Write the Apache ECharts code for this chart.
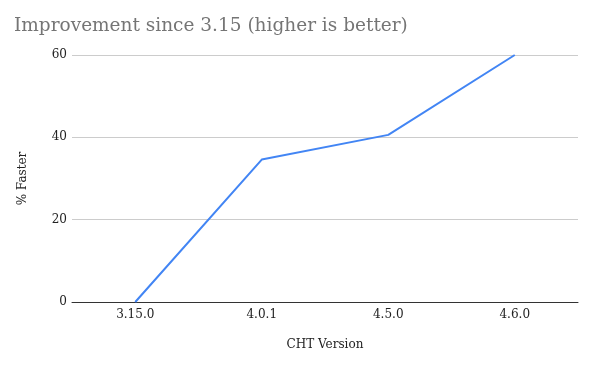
<!DOCTYPE html>
<html><head><meta charset="utf-8">
<script src="https://cdn.jsdelivr.net/npm/echarts@6/dist/echarts.min.js"></script>
<style>html,body{margin:0;padding:0;background:#fff}#c{width:596px;height:370px}</style>
</head><body><div id="c"></div>
<script>
const categories = ["3.15.0", "4.0.1", "4.5.0", "4.6.0"];
const fasterPct = [0, 34.6, 40.6, 60.0];
const yTicks = {min: 0, max: 60, interval: 20};
const titleText = "Improvement since 3.15 (higher is better)";
const xName = "CHT Version";
const yName = "% Faster";

const font = "'DejaVu Serif', 'Liberation Serif', serif";
const chart = echarts.init(document.getElementById('c'));
chart.setOption({
  animation: false,
  title: {text: titleText, left: 9, top: 12,
    textStyle: {fontFamily: font, fontSize: 18.5, fontWeight: 'normal', color: '#757575'}},
  grid: {left: 72, right: 18, top: 55, bottom: 68},
  xAxis: {type: 'category', data: categories, boundaryGap: true,
    name: xName, nameLocation: 'middle', nameGap: 37,
    nameTextStyle: {fontFamily: font, fontSize: 12, color: '#222'},
    axisLine: {lineStyle: {color: '#333', width: 1}}, axisTick: {show: false},
    axisLabel: {fontFamily: font, fontSize: 12, color: '#222', margin: 7}},
  yAxis: {type: 'value', min: yTicks.min, max: yTicks.max, interval: yTicks.interval,
    name: yName, nameLocation: 'middle', nameGap: 43, nameRotate: 90,
    nameTextStyle: {fontFamily: font, fontSize: 12, color: '#222'},
    axisLine: {show: false}, axisTick: {show: false},
    splitLine: {lineStyle: {color: '#ccc'}},
    axisLabel: {fontFamily: font, fontSize: 12, color: '#222', margin: 5}},
  series: [{type: 'line', data: fasterPct, symbol: 'none',
    lineStyle: {color: '#4285f4', width: 2}, clip: true}]
});
</script></body></html>
